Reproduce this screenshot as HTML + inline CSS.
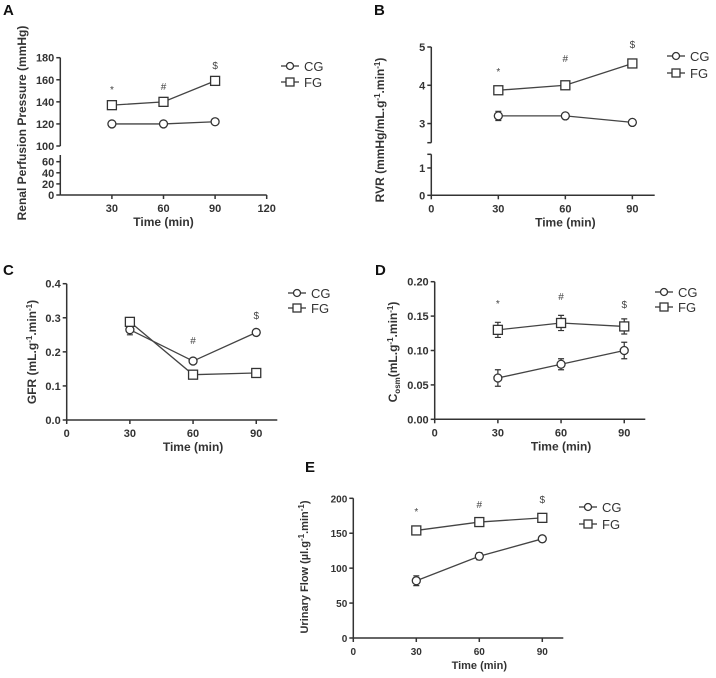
<!DOCTYPE html>
<html><head><meta charset="utf-8"><style>
body{margin:0;background:#fff;}
svg{display:block;font-family:"Liberation Sans",Arial,sans-serif;}
</style></head><body>
<svg id="fig" width="716" height="678" viewBox="0 0 716 678" xmlns="http://www.w3.org/2000/svg"></svg>
<script>
const timesMin = [30, 60, 90];
const aCG = [120, 120, 122], aFG = [137, 140, 159], aCGerr = [1, 1, 2], aFGerr = [2, 2, 3];
const aTicksUpper = [100, 120, 140, 160, 180], aTicksLower = [0, 20, 40, 60], aXTicks = [30, 60, 90, 120];
const bCG = [3.2, 3.2, 3.03], bFG = [3.87, 4.0, 4.57], bCGerr = [0.12, 0.03, 0.03], bFGerr = [0.04, 0.04, 0.06];
const bTicksUpper = [3, 4, 5], bTicksLower = [0, 1], bXTicks = [0, 30, 60, 90];
const cCG = [0.265, 0.173, 0.257], cFG = [0.288, 0.133, 0.138], cCGerr = [0.015, 0.004, 0.004], cFGerr = [0.006, 0.004, 0.004];
const cTicks = [0, 0.1, 0.2, 0.3, 0.4], cXTicks = [0, 30, 60, 90];
const dCG = [0.06, 0.08, 0.10], dFG = [0.13, 0.14, 0.135], dCGerr = [0.012, 0.008, 0.012], dFGerr = [0.011, 0.011, 0.011];
const dTicks = [0, 0.05, 0.10, 0.15, 0.20], dXTicks = [0, 30, 60, 90];
const eCG = [82, 117, 142], eFG = [154, 166, 172], eCGerr = [7, 5, 3], eFGerr = [3, 5, 3];
const eTicks = [0, 50, 100, 150, 200], eXTicks = [0, 30, 60, 90];
const sigMarks = ["*", "#", "$"];

const svg = document.getElementById('fig');
const NS = 'http://www.w3.org/2000/svg';
function mk(tag, attrs, parent, text){
  const e = document.createElementNS(NS, tag);
  for (const k in attrs) e.setAttribute(k, attrs[k]);
  if (text !== undefined) e.textContent = text;
  (parent || svg).appendChild(e);
  return e;
}
const INK = '#333';

function panel(p){
  const g = mk('g', {});
  
  
  const t = mk('text', {x: p.lab[0], y: p.lab[1], 'font-size': 15, 'font-weight': 'bold', fill: '#111'}, g, p.id);
  
  
  const xs = v => p.x0 + (v - p.xmin) / (p.xmax - p.xmin) * (p.x1 - p.x0);
  const ys = v => {
    for (const s of p.segs) if (v >= s.v0 - 1e-9 && v <= s.v1 + 1e-9) return s.y0 + (v - s.v0) / (s.v1 - s.v0) * (s.y1 - s.y0);
    const s = p.segs[p.segs.length - 1];
    return s.y0 + (v - s.v0) / (s.v1 - s.v0) * (s.y1 - s.y0);
  };
  const ax = mk('g', {stroke: INK, 'stroke-width': 1.5, fill: 'none'}, g);
  
  
  p.segs.forEach(s => mk('line', {x1: p.x0, x2: p.x0, y1: s.y0, y2: s.ye !== undefined ? s.ye : s.y1}, ax));
  const base = ys(p.segs[0].v0);
  mk('line', {x1: p.x0, x2: p.x1, y1: base, y2: base}, ax);
  p.yticks.forEach(v => {
    const y = ys(v);
    mk('line', {x1: p.x0 - 4, x2: p.x0, y1: y, y2: y}, ax);
    const tl = mk('text', {x: p.x0 - 6, y: y + 4, 'font-size': p.fs, 'font-weight': 'bold', 'text-anchor': 'end', fill: INK, stroke: 'none'}, g, p.fmt(v));
    
    
  });
  (p.breaks || []).forEach(y => mk('line', {x1: p.x0 - 4, x2: p.x0, y1: y, y2: y}, ax));
  p.xticks.forEach(v => {
    const x = xs(v);
    mk('line', {x1: x, x2: x, y1: base, y2: base + 4}, ax);
    const tl = mk('text', {x: x, y: base + 17, 'font-size': p.fs, 'font-weight': 'bold', 'text-anchor': 'middle', fill: INK, stroke: 'none'}, g, String(v));
    
    
  });
  const xt = mk('text', {x: xs(60), y: base + 31, 'font-size': p.fs + 1, 'font-weight': 'bold', 'text-anchor': 'middle', fill: INK}, g, 'Time (min)');
  
  
  const yt = mk('text', {x: 0, y: 0, 'font-size': p.fs + 1, 'font-weight': 'bold', 'text-anchor': 'middle', fill: INK, transform: `translate(${p.yt[0]},${p.yt[1]}) rotate(-90)`}, g);
  yt.innerHTML = p.ytitle;
  
  

  function series(vals, errs, shape, name){
    const sg = mk('g', {}, g);
    
    
    const pts = vals.map((v, i) => [xs(timesMin[i]), ys(v)]);
    mk('polyline', {points: pts.map(q => q.join(',')).join(' '), fill: 'none', stroke: '#444', 'stroke-width': 1.3}, sg);
    vals.forEach((v, i) => {
      const x = pts[i][0], yt1 = ys(v + errs[i]), yb = ys(v - errs[i]);
      const eb = mk('path', {d: `M${x},${yt1}V${yb}M${x-3},${yt1}H${x+3}M${x-3},${yb}H${x+3}`, stroke: INK, 'stroke-width': 1.2, fill: 'none'}, sg);
      
      
      let m;
      if (shape === 'c') m = mk('circle', {cx: x, cy: pts[i][1], r: 4, fill: '#fff', stroke: INK, 'stroke-width': 1.3}, sg);
      else m = mk('rect', {x: x - 4.5, y: pts[i][1] - 4.5, width: 9, height: 9, fill: '#fff', stroke: INK, 'stroke-width': 1.3}, sg);
      
      
    });
  }
  series(p.cg, p.cgErr, 'c', 'cg');
  series(p.fg, p.fgErr, 's', 'fg');
  p.sig.forEach((yy, i) => {
    if (yy === null) return;
    const s = mk('text', {x: xs(timesMin[i]), y: yy, 'font-size': 10, 'text-anchor': 'middle', fill: '#444'}, g, sigMarks[i]);
    
    
  });
  const lg = mk('g', {}, g);
  
  
  [['CG', 'c'], ['FG', 's']].forEach((e, i) => {
    const y = p.leg[1] + i * p.leg[2], x = p.leg[0];
    const le = mk('g', {}, lg);
    
    
    mk('line', {x1: x - 9, x2: x + 9, y1: y, y2: y, stroke: INK, 'stroke-width': 1.3}, le);
    if (e[1] === 'c') mk('circle', {cx: x, cy: y, r: 3.5, fill: '#fff', stroke: INK, 'stroke-width': 1.3}, le);
    else mk('rect', {x: x - 4, y: y - 4, width: 8, height: 8, fill: '#fff', stroke: INK, 'stroke-width': 1.3}, le);
    mk('text', {x: x + 14, y: y + 5, 'font-size': 13, fill: INK}, le, e[0]);
  });
}

panel({id: 'A', lab: [3, 15], x0: 60.3, x1: 266.7, xmin: 0, xmax: 120,
  segs: [{v0: 0, v1: 60, y0: 195, y1: 161.7, ye: 155}, {v0: 100, v1: 180, y0: 146, y1: 57.7}],
  breaks: [], yticks: aTicksUpper.concat(aTicksLower), xticks: aXTicks, fmt: v => String(v), fs: 11,
  yt: [26, 123], ytitle: 'Renal Perfusion Pressure (mmHg)', cg: aCG, fg: aFG, cgErr: aCGerr, fgErr: aFGerr,
  sig: [93, 90, 69], leg: [290, 66, 16]});
panel({id: 'B', lab: [374, 15], x0: 431.3, x1: 654.7, xmin: 0, xmax: 100,
  segs: [{v0: 0, v1: 1.5, y0: 195.3, y1: 154.3}, {v0: 2.5, v1: 5, y0: 142.7, y1: 47}],
  breaks: [142.7, 154.3], yticks: bTicksLower.concat(bTicksUpper), xticks: bXTicks, fmt: v => String(v), fs: 11,
  yt: [384, 130], ytitle: 'RVR (mmHg/mL.g<tspan dy="-4" font-size="8">-1</tspan><tspan dy="4">.min</tspan><tspan dy="-4" font-size="8">-1</tspan><tspan dy="4">)</tspan>',
  cg: bCG, fg: bFG, cgErr: bCGerr, fgErr: bFGerr, sig: [75, 62, 48], leg: [676, 56, 17]});
panel({id: 'C', lab: [3, 275], x0: 66.7, x1: 277.3, xmin: 0, xmax: 100,
  segs: [{v0: 0, v1: 0.4, y0: 420, y1: 283.7}],
  yticks: cTicks, xticks: cXTicks, fmt: v => v.toFixed(1), fs: 11,
  yt: [36, 352], ytitle: 'GFR (mL.g<tspan dy="-4" font-size="8">-1</tspan><tspan dy="4">.min</tspan><tspan dy="-4" font-size="8">-1</tspan><tspan dy="4">)</tspan>',
  cg: cCG, fg: cFG, cgErr: cCGerr, fgErr: cFGerr, sig: [null, 344, 319], leg: [297, 293, 15]});
panel({id: 'D', lab: [375, 275], x0: 434.7, x1: 645.3, xmin: 0, xmax: 100,
  segs: [{v0: 0, v1: 0.2, y0: 419.3, y1: 281.7}],
  yticks: dTicks, xticks: dXTicks, fmt: v => v.toFixed(2), fs: 11,
  yt: [397, 352], ytitle: 'C<tspan dy="3" font-size="8">osm</tspan><tspan dy="-3">(mL.g</tspan><tspan dy="-4" font-size="8">-1</tspan><tspan dy="4">.min</tspan><tspan dy="-4" font-size="8">-1</tspan><tspan dy="4">)</tspan>',
  cg: dCG, fg: dFG, cgErr: dCGerr, fgErr: dFGerr, sig: [307, 300, 308], leg: [664, 292, 15]});
panel({id: 'E', lab: [305, 472], x0: 353.3, x1: 563.3, xmin: 0, xmax: 100,
  segs: [{v0: 0, v1: 200, y0: 638, y1: 498.3}],
  yticks: eTicks, xticks: eXTicks, fmt: v => String(v), fs: 10,
  yt: [308, 567], ytitle: 'Urinary Flow (µl.g<tspan dy="-4" font-size="8">-1</tspan><tspan dy="4">.min</tspan><tspan dy="-4" font-size="8">-1</tspan><tspan dy="4">)</tspan>',
  cg: eCG, fg: eFG, cgErr: eCGerr, fgErr: eFGerr, sig: [515, 508, 503], leg: [588, 507, 17]});
</script>
</body></html>
